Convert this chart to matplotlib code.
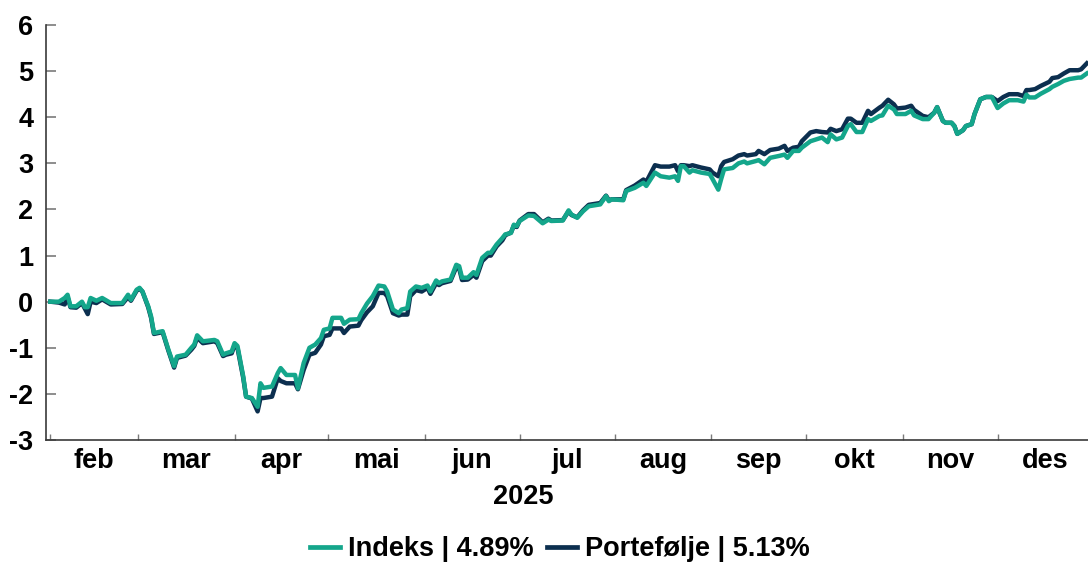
import matplotlib

matplotlib.use("Agg")
import matplotlib.pyplot as plt
from matplotlib.lines import Line2D

# trading-day position of each reading and the two cumulative return series (%)
days = [0, 3, 5, 6, 7, 9, 10, 11, 12, 13, 14, 16, 18, 21, 25, 27, 28, 30, 31, 32,
        34, 35, 36, 39, 41, 43, 44, 47, 49, 50, 51, 53, 57, 58, 60, 61, 63, 64, 65, 67,
        68, 70, 72, 73, 74, 77, 79, 80, 82, 85, 86, 88, 90, 92, 94, 95, 97, 98, 101, 102,
        104, 107, 108, 110, 112, 114, 116, 117, 119, 121, 122, 124, 125, 127, 129, 131, 132, 134, 135, 136,
        139, 141, 142, 143, 145, 147, 148, 150, 152, 153, 155, 157, 158, 160, 161, 162, 163, 166, 168, 171,
        173, 174, 178, 180, 181, 183, 185, 187, 191, 193, 194, 195, 199, 200, 203, 206, 207, 210, 212, 215,
        217, 218, 219, 220, 222, 223, 226, 229, 230, 232, 233, 234, 237, 239, 241, 242, 245, 246, 248, 250,
        253, 255, 256, 258, 260, 261, 264, 266, 268, 270, 271, 273, 275, 277, 278, 280, 282, 284, 285, 288,
        289, 291, 293, 294, 297, 299, 300, 303, 305, 307, 308, 310, 311, 313, 314, 315, 317, 318, 320, 321,
        323, 325, 327, 329, 331, 333, 336, 338, 339, 340, 342, 344, 347, 348, 350, 352, 354, 357, 358, 360]

indeks = [0.00, 0.00, 0.08, 0.15, -0.10, -0.10, -0.05, 0.00, -0.12, -0.12, 0.08, 0.02, 0.08, -0.03, -0.03, 0.15, 0.04, 0.26, 0.30, 0.22,
          -0.10, -0.32, -0.68, -0.64, -1.04, -1.40, -1.19, -1.15, -1.00, -0.93, -0.73, -0.86, -0.83, -0.86, -1.15, -1.12, -1.08, -0.90, -0.96, -1.62,
          -2.06, -2.09, -2.28, -1.77, -1.87, -1.84, -1.55, -1.44, -1.59, -1.59, -1.88, -1.33, -1.00, -0.93, -0.79, -0.61, -0.58, -0.35, -0.35, -0.48,
          -0.39, -0.38, -0.25, -0.04, 0.12, 0.35, 0.33, 0.22, -0.17, -0.25, -0.17, -0.14, 0.22, 0.33, 0.30, 0.35, 0.22, 0.46, 0.40, 0.44,
          0.48, 0.80, 0.77, 0.52, 0.52, 0.64, 0.58, 0.95, 1.06, 1.06, 1.24, 1.38, 1.46, 1.49, 1.67, 1.64, 1.75, 1.87, 1.86, 1.70,
          1.78, 1.75, 1.76, 1.98, 1.89, 1.82, 1.96, 2.07, 2.11, 2.29, 2.18, 2.22, 2.20, 2.40, 2.47, 2.58, 2.51, 2.80, 2.72, 2.69,
          2.72, 2.62, 2.94, 2.94, 2.80, 2.85, 2.80, 2.77, 2.66, 2.43, 2.66, 2.87, 2.90, 3.00, 3.04, 3.00, 3.05, 3.07, 2.98, 3.12,
          3.16, 3.19, 3.12, 3.27, 3.27, 3.34, 3.48, 3.52, 3.56, 3.46, 3.63, 3.52, 3.56, 3.81, 3.85, 3.68, 3.68, 3.96, 3.92, 4.03,
          4.04, 4.25, 4.17, 4.07, 4.07, 4.14, 4.04, 3.96, 3.96, 4.10, 4.22, 3.92, 3.88, 3.88, 3.81, 3.64, 3.72, 3.81, 3.85, 4.07,
          4.39, 4.44, 4.44, 4.20, 4.30, 4.37, 4.37, 4.34, 4.49, 4.43, 4.43, 4.51, 4.61, 4.66, 4.72, 4.79, 4.83, 4.86, 4.86, 4.95]

portefolje = [0.00, -0.02, -0.06, 0.10, -0.12, -0.13, -0.08, -0.03, -0.15, -0.27, 0.00, -0.03, 0.05, -0.06, -0.05, 0.10, 0.02, 0.24, 0.28, 0.22,
              -0.12, -0.35, -0.70, -0.66, -1.06, -1.43, -1.22, -1.17, -1.04, -0.96, -0.78, -0.90, -0.86, -0.90, -1.18, -1.15, -1.12, -0.94, -1.00, -1.65,
              -2.06, -2.10, -2.38, -2.09, -2.09, -2.06, -1.66, -1.72, -1.77, -1.77, -1.90, -1.48, -1.15, -1.11, -0.93, -0.75, -0.72, -0.58, -0.58, -0.68,
              -0.54, -0.52, -0.40, -0.23, -0.10, 0.19, 0.19, 0.12, -0.25, -0.30, -0.28, -0.28, 0.12, 0.25, 0.22, 0.30, 0.17, 0.40, 0.36, 0.40,
              0.45, 0.75, 0.72, 0.47, 0.48, 0.58, 0.52, 0.88, 1.00, 1.00, 1.20, 1.33, 1.44, 1.50, 1.65, 1.62, 1.76, 1.90, 1.90, 1.72,
              1.80, 1.76, 1.77, 1.96, 1.88, 1.83, 1.98, 2.10, 2.14, 2.30, 2.20, 2.22, 2.22, 2.42, 2.52, 2.65, 2.60, 2.96, 2.93, 2.93,
              2.96, 2.83, 2.96, 2.96, 2.94, 2.96, 2.91, 2.87, 2.80, 2.72, 2.94, 3.03, 3.09, 3.17, 3.20, 3.17, 3.20, 3.27, 3.20, 3.29,
              3.32, 3.38, 3.27, 3.34, 3.36, 3.48, 3.67, 3.70, 3.68, 3.67, 3.75, 3.70, 3.74, 3.97, 3.97, 3.88, 3.88, 4.14, 4.07, 4.21,
              4.25, 4.38, 4.28, 4.19, 4.21, 4.25, 4.16, 4.03, 4.00, 4.10, 4.22, 3.92, 3.88, 3.88, 3.81, 3.64, 3.72, 3.81, 3.85, 4.07,
              4.39, 4.44, 4.44, 4.35, 4.44, 4.50, 4.50, 4.46, 4.59, 4.59, 4.61, 4.68, 4.77, 4.85, 4.87, 4.95, 5.02, 5.02, 5.04, 5.17]

month_labels = ["feb", "mar", "apr", "mai", "jun", "jul", "aug", "sep", "okt", "nov", "des"]
month_ticks = [0, 30.5, 64, 96.5, 130, 163, 196, 229.5, 262.5, 296, 329]
legend_labels = ["Indeks | 4.89%", "Portefølje | 5.13%"]

TEAL = "#14a68b"
NAVY = "#0c2f4f"
SPINE = "#3a3a3a"
TICK = "#7a7a7a"
FS = 19.5

plt.rcParams["font.family"] = ["Liberation Sans", "DejaVu Sans"]
plt.rcParams["font.weight"] = "bold"
plt.rcParams["axes.unicode_minus"] = False

fig = plt.figure(figsize=(10.88, 5.63), dpi=100)
ax = fig.add_axes([0.042, 0.2185, 0.958, 0.737])

ax.plot(days, portefolje, color=NAVY, linewidth=3.2, solid_joinstyle="round", zorder=2)
ax.plot(days, indeks, color=TEAL, linewidth=3.2, solid_joinstyle="round", zorder=3)

ax.set_xlim(-1.6, 360.4)
ax.set_ylim(-3, 6)
ax.set_yticks(range(-3, 7))

# month boundaries as plain ticks, names centred in each interval
edges = month_ticks + [362]
mids = [(a + b) / 2 for a, b in zip(edges[:-1], edges[1:])]
ax.set_xticks(month_ticks)
ax.set_xticklabels([])
ax.set_xticks(mids, minor=True)
ax.set_xticklabels(month_labels, minor=True)

ax.tick_params(axis="x", which="major", direction="in", length=4, width=1, color=TICK)
ax.tick_params(axis="x", which="minor", length=0, pad=6, labelsize=FS)
ax.tick_params(axis="y", direction="in", length=7, width=1.2, color=TICK, pad=9, labelsize=FS)
for lab in ax.get_xticklabels(minor=True) + ax.get_yticklabels():
    lab.set_fontweight("bold")

for side in ["top", "right"]:
    ax.spines[side].set_visible(False)
for side in ["left", "bottom"]:
    ax.spines[side].set_color(SPINE)
    ax.spines[side].set_linewidth(1.2)

fig.text(523 / 1088, 1 - 497 / 563, "2025", ha="center", va="center", fontsize=FS, fontweight="bold")

handles = [Line2D([], [], color=TEAL, linewidth=3.4), Line2D([], [], color=NAVY, linewidth=3.4)]
fig.legend(handles, legend_labels, loc="center", bbox_to_anchor=(560 / 1088, 1 - 549 / 563), ncol=2,
           frameon=False, handlelength=1.1, handletextpad=0.3, columnspacing=0.5,
           prop={"weight": "bold", "size": FS})

fig.savefig("out.png", dpi=100)
